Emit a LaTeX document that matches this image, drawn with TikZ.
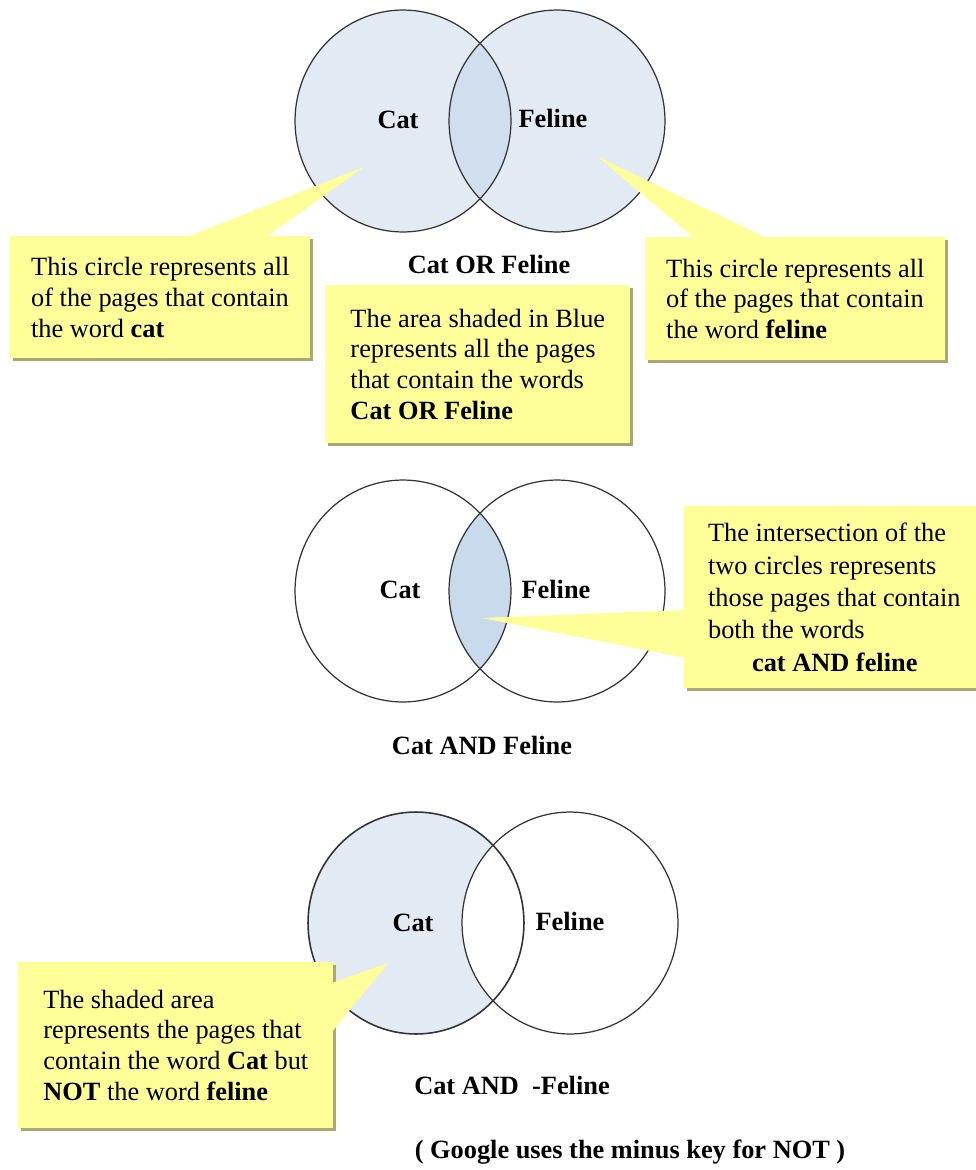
\documentclass[tikz,border=0pt]{standalone}
\usepackage{fontspec}
\setmainfont{Liberation Serif}
\usetikzlibrary{shadows}
\definecolor{NOTE}{HTML}{FFFF99}
\definecolor{NOTESHADOW}{HTML}{A9A872}
\definecolor{AREA}{HTML}{E2EAF4}
\definecolor{OVERLAP}{HTML}{D0DEEE}
\definecolor{BOTH}{HTML}{C8DAEB}
\definecolor{RIM}{HTML}{333333}

\begin{document}
\begin{tikzpicture}[x=0.02cm, y=-0.02cm,
		ring/.style={x radius=2.16cm, y radius=2.22cm},
		rim/.style={draw=RIM, line width=0.7pt},
		word/.style={font=\fontsize{15}{17.5}\selectfont\bfseries, inner sep=0pt},
		note/.style={fill=NOTE, anchor=north west, align=left, inner sep=0pt, font=\fontsize{15}{17.5}\selectfont, drop shadow={shadow xshift=0.05cm, shadow yshift=-0.05cm, fill=NOTESHADOW, opacity=1}},
		pointer/.style={fill=NOTE}]
				\useasboundingbox (0,0) rectangle (976,1170);
				\clip (0,0) rectangle (976,1170);

				\coordinate (orCat) at (403,121);
				\coordinate (orFeline) at (557,121);
				\coordinate (andCat) at (403,591);
				\coordinate (andFeline) at (557,591);
				\coordinate (notCat) at (416,923);
				\coordinate (notFeline) at (570,923);

				\fill [ring, AREA] (orCat) circle;
				\fill [ring, AREA] (orFeline) circle;
				\begin{scope}
					\clip [ring] (orCat) circle;
					\fill [ring, OVERLAP] (orFeline) circle;
				\end{scope}
				\draw [ring, rim] (orCat) circle;
				\draw [ring, rim] (orFeline) circle;

				\begin{scope}
					\clip [ring] (andCat) circle;
					\fill [ring, BOTH] (andFeline) circle;
				\end{scope}
				\draw [ring, rim] (andCat) circle;
				\draw [ring, rim] (andFeline) circle;

				\fill [ring, AREA] (notCat) circle;
				\fill [ring, white] (notFeline) circle;
				\draw [ring, rim, line width=0.9pt] (notCat) circle;
				\draw [ring, rim] (notFeline) circle;

				\node [word] (orCatWord) at (398,120) {Cat};
				\node [word] (orFelineWord) at (553,118) {Feline};
				\node [word] (orLabel) at (489,264) {Cat OR Feline};
				\node [word] (andCatWord) at (400,590) {Cat};
				\node [word] (andFelineWord) at (556,589) {Feline};
				\node [word] (andLabel) at (482,745) {Cat AND Feline};
				\node [word] (notCatWord) at (413,923) {Cat};
				\node [word] (notFelineWord) at (570,921) {Feline};
				\node [word] (notLabel) at (512,1085) {Cat AND~~-Feline};
				\node [word] (googleLabel) at (630,1152) {( Google uses the minus key for NOT )};

				\node [note, minimum width=6cm, minimum height=2.44cm] (catNote) at (10,236) {This circle represents all\\of the pages that contain\\the word \textbf{cat}};
				\node [note, minimum width=6cm, minimum height=2.46cm] (felineNote) at (645,237) {This circle represents all\\of the pages that contain\\the word \textbf{feline}};
				\node [note, minimum width=6.1cm, minimum height=3.16cm] (orNote) at (325,285) {The area shaded in Blue\\represents all the pages\\that contain the words\\\textbf{Cat OR Feline}};
				\node [note, minimum width=6cm, minimum height=3.64cm, font=\fontsize{15}{18.4}\selectfont] (andNote) at (684,506) {The intersection of the\\two circles represents\\those pages that contain\\both the words\\\hspace*{0.88cm}\textbf{cat AND feline}};
				\node [note, minimum width=6.3cm, minimum height=3.32cm] (notNote) at (18,962) {The shaded area\\represents the pages that\\contain the word \textbf{Cat} but\\\textbf{NOT} the word \textbf{feline}};

				\coordinate (catTip) at (364,167);
				\coordinate (felineTip) at (598,157);
				\coordinate (andTip) at (482,618);
				\coordinate (notTip) at (388,963);

				\fill [pointer] (catTip) -- ([xshift=3.5cm, yshift=-1pt]catNote.north west) -- ([xshift=5.1cm, yshift=-1pt]catNote.north west) -- cycle;
				\fill [pointer] (felineTip) -- ([xshift=1cm, yshift=-1pt]felineNote.north west) -- ([xshift=2.46cm, yshift=-1pt]felineNote.north west) -- cycle;
				\fill [pointer] (andTip) -- ([xshift=1pt, yshift=-2.08cm]andNote.north west) -- ([xshift=1pt, yshift=-3.04cm]andNote.north west) -- cycle;
				\fill [pointer] (notTip) -- ([xshift=-1pt, yshift=-0.42cm]notNote.north east) -- ([xshift=-1pt, yshift=-1.4cm]notNote.north east) -- cycle;
			\end{tikzpicture}
\end{document}
